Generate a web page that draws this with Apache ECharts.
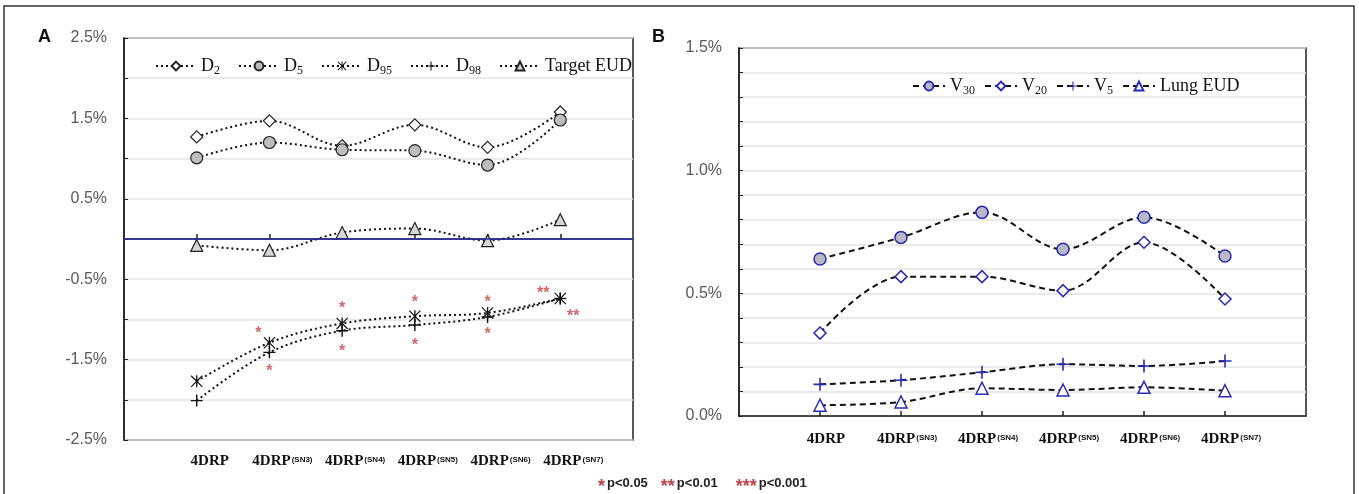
<!DOCTYPE html>
<html>
<head>
<meta charset="utf-8">
<script src="https://cdn.jsdelivr.net/npm/echarts@6/dist/echarts.min.js"></script>
<style>
  html, body { margin: 0; padding: 0; background: #fff; }
  #chart { width: 1359px; height: 494px; }
</style>
</head>
<body>
<div id="chart"></div>
<script>
// categories (blank slots at both ends leave the gap Excel draws)
const cats = ['4DRP', '4DRP(SN3)', '4DRP(SN4)', '4DRP(SN5)', '4DRP(SN6)', '4DRP(SN7)'];
const axisCats = ['', ...cats, ''];

// panel A: target dose differences (%)
const d2 = [1.27, 1.47, 1.16, 1.42, 1.14, 1.58];
const d5 = [1.01, 1.20, 1.11, 1.10, 0.92, 1.48];
const d95 = [-1.77, -1.29, -1.05, -0.96, -0.92, -0.74];
const d98 = [-2.01, -1.41, -1.14, -1.07, -0.97, -0.74];
const targetEud = [-0.08, -0.14, 0.08, 0.13, -0.02, 0.24];

// significance marks in panel A
const sigCats = ['4DRP(SN3)', '4DRP(SN3)', '4DRP(SN4)', '4DRP(SN4)', '4DRP(SN5)', '4DRP(SN5)', '4DRP(SN6)', '4DRP(SN6)', '4DRP(SN7)', '4DRP(SN7)'];
const sigVals = [-1.11, -1.59, -0.80, -1.34, -0.73, -1.26, -0.73, -1.13, -0.62, -0.90];
const sigMarks = ['*', '*', '*', '*', '*', '*', '*', '*', '**', '**'];
const sigShift = [-11, 0, 0, 0, 0, 0, 0, 0, -17, 13];

// panel B: lung dose-volume differences (%)
const v30 = [0.64, 0.728, 0.83, 0.68, 0.81, 0.652];
const v20 = [0.338, 0.568, 0.568, 0.511, 0.708, 0.477];
const v5 = [0.129, 0.146, 0.178, 0.211, 0.204, 0.224];
const lungEud = [0.044, 0.057, 0.113, 0.106, 0.117, 0.103];

const legendA = ['D2', 'D5', 'D95', 'D98', 'Target EUD'];
const legendB = ['V30', 'V20', 'V5', 'Lung EUD'];

const PLUS = 'path://M4.4,0 H5.6 V4.4 H10 V5.6 H5.6 V10 H4.4 V5.6 H0 V4.4 H4.4 Z';
const STAR = 'path://M4.45,0 H5.55 V10 H4.45 Z M0,0.7 L0.7,0 L10,9.3 L9.3,10 Z M9.3,0 L10,0.7 L0.7,10 L0,9.3 Z';
const BLUE = '#2a2ab4';
const SERIF = '"Liberation Serif", "Times New Roman", serif';
const SANS = '"Liberation Sans", Arial, sans-serif';
const RED = '#c0424a';

const pairs = vals => vals.map((v, i) => [cats[i], v]);

function catLabel(v) {
  if (!v) return '';
  const i = v.indexOf('(');
  return i < 0 ? '{m|' + v + '}' : '{m|' + v.slice(0, i) + '}{s|' + v.slice(i) + '}';
}
function legendLabel(name) {
  const m = name.match(/^([DV])(\d+)$/);
  return m ? '{m|' + m[1] + '}{s|' + m[2] + '}' : '{m|' + name + '}';
}
const catRich = {
  m: { fontFamily: SERIF, fontWeight: 'bold', fontSize: 15, color: '#111' },
  s: { fontFamily: SANS, fontWeight: 'bold', fontSize: 8, color: '#111', padding: [0, 0, 4, 1] }
};
const legendRich = {
  m: { fontFamily: SERIF, fontSize: 18, color: '#111' },
  s: { fontFamily: SERIF, fontSize: 12, color: '#111', padding: [9, 0, 0, 0] }
};

function xAxis(grid, margin, shift) {
  return {
    type: 'category', gridIndex: grid, data: axisCats, boundaryGap: false,
    axisLine: { lineStyle: { color: '#222', width: 1.5 } },
    axisTick: { inside: true, length: 5, lineStyle: { color: '#222', width: 1.5 },
      interval: (i, v) => v !== '' },
    axisLabel: { interval: 0, margin: margin, padding: [0, 0, 0, shift],
      formatter: catLabel, rich: catRich },
    splitLine: { show: false }
  };
}
function yAxis(grid, min, max, step, show) {
  return {
    type: 'value', gridIndex: grid, min: min, max: max, interval: step,
    axisLine: { show: true, lineStyle: { color: '#222', width: 1.5 } },
    axisTick: { show: true, inside: true, length: 4, lineStyle: { color: '#222' } },
    axisLabel: { margin: 17, color: '#595959', fontFamily: SANS, fontSize: 16,
      formatter: v => show(v) ? v.toFixed(1) + '%' : '' },
    splitLine: { lineStyle: { color: '#e3e3e3', width: 1.5 } }
  };
}
function lineA(name, data, symbol, size, fill, border) {
  return {
    name: name, type: 'line', xAxisIndex: 0, yAxisIndex: 0, data: pairs(data),
    smooth: 0.35, symbol: symbol, symbolSize: size,
    lineStyle: { color: '#111', width: 2, type: [2, 3] },
    itemStyle: { color: fill, borderColor: '#222', borderWidth: border }
  };
}
function lineB(name, data, symbol, size, fill, border) {
  return {
    name: name, type: 'line', xAxisIndex: 1, yAxisIndex: 1, data: pairs(data),
    smooth: 0.35, symbol: symbol, symbolSize: size,
    lineStyle: { color: '#111', width: 2, type: [6, 4] },
    itemStyle: { color: fill, borderColor: BLUE, borderWidth: border }
  };
}

const targetSeries = lineA('Target EUD', targetEud, 'triangle', 12, '#d6d6d6', 1.2);
targetSeries.markLine = {
  silent: true, symbol: 'none', label: { show: false },
  lineStyle: { color: '#2d2da8', type: 'solid', width: 1.5 },
  data: [{ yAxis: 0 }]
};

const option = {
  animation: false,
  backgroundColor: '#fff',
  grid: [
    { left: 124, right: 726, top: 38, bottom: 54, show: true, borderColor: '#222', borderWidth: 1.5 },
    { left: 739, right: 53, top: 48, bottom: 78, show: true, borderColor: '#222', borderWidth: 1.5 }
  ],
  xAxis: [xAxis(0, 14, 26), xAxis(1, 16, 12)],
  yAxis: [
    yAxis(0, -2.5, 2.5, 0.5, v => Math.abs(Math.round(v * 10)) % 10 === 5),
    yAxis(1, 0, 1.5, 0.1, v => Math.round(v * 10) % 5 === 0)
  ],
  legend: [
    { data: legendA, left: 150, top: 52, itemWidth: 40, itemHeight: 11, itemGap: 18,
      formatter: legendLabel, textStyle: { rich: legendRich } },
    { data: legendB, left: 907, top: 72, itemWidth: 32, itemHeight: 11, itemGap: 9,
      formatter: legendLabel, textStyle: { rich: legendRich } }
  ],
  series: [
    lineA('D2', d2, 'diamond', 12, '#ffffff', 1.2),
    lineA('D5', d5, 'circle', 12, '#bdbdbd', 1.2),
    lineA('D95', d95, STAR, 12, '#111', 0),
    lineA('D98', d98, PLUS, 12, '#111', 0),
    targetSeries,
    {
      name: 'sig', type: 'scatter', xAxisIndex: 0, yAxisIndex: 0, symbolSize: 0, silent: true,
      data: sigVals.map((v, i) => ({
        value: [sigCats[i], v], name: sigMarks[i],
        label: { offset: [sigShift[i], 5] }
      })),
      label: { show: true, position: 'inside', formatter: p => p.name,
        color: RED, fontFamily: SANS, fontWeight: 'bold', fontSize: 16 }
    },
    lineB('V30', v30, 'circle', 12, '#b9b9c6', 1.5),
    lineB('V20', v20, 'diamond', 12, '#ffffff', 1.5),
    lineB('V5', v5, PLUS, 13, BLUE, 0),
    lineB('Lung EUD', lungEud, 'triangle', 12, '#ffffff', 1.5)
  ],
  graphic: [
    { type: 'rect', shape: { x: 4, y: 6, width: 1350, height: 500 }, silent: true,
      style: { fill: 'none', stroke: '#333', lineWidth: 1.5 } },
    { type: 'text', left: 38, top: 28,
      style: { text: 'A', font: 'bold 18px ' + SANS, fill: '#111' } },
    { type: 'text', left: 652, top: 28,
      style: { text: 'B', font: 'bold 18px ' + SANS, fill: '#111' } },
    { type: 'text', left: 598, top: 477,
      style: {
        text: '{r|*}{t|p<0.05}{r2|**}{t|p<0.01}{r3|***}{t|p<0.001}',
        rich: {
          r: { fill: RED, font: 'bold 18px ' + SANS, padding: [8, 2, 0, 0] },
          r2: { fill: RED, font: 'bold 18px ' + SANS, padding: [8, 2, 0, 13] },
          r3: { fill: RED, font: 'bold 18px ' + SANS, padding: [8, 2, 0, 18] },
          t: { fill: '#222', font: 'bold 13px ' + SANS }
        }
      } }
  ]
};

const chart = echarts.init(document.getElementById('chart'));
chart.setOption(option);
</script>
</body>
</html>
